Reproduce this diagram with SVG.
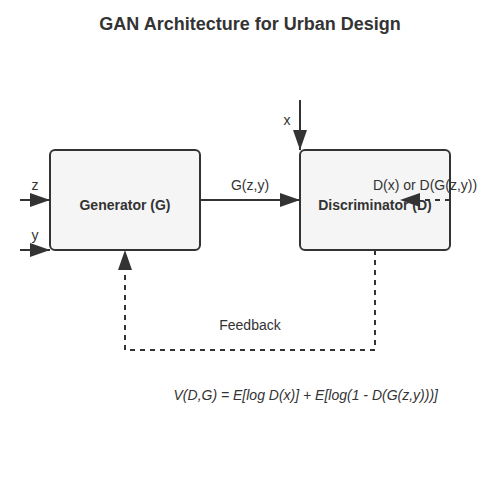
<svg xmlns="http://www.w3.org/2000/svg" width="500" height="500" viewBox="0 0 500 500">
<style>
.box{fill:#f5f5f5;stroke:#333;stroke-width:2}
.lbl{font-family:"Liberation Sans",Arial,sans-serif;font-size:14px;fill:#333}
.bold{font-weight:bold}
.ln{stroke:#333;stroke-width:2;fill:none}
.dash{stroke-dasharray:5,5}
</style>
<defs>
<marker id="arr" markerWidth="10" markerHeight="7" refX="10" refY="3.5" orient="auto" markerUnits="strokeWidth" viewBox="0 0 10 7">
<polygon points="0,0 10,3.5 0,7" fill="#333"/>
</marker>
</defs>
<rect width="500" height="500" fill="#fff"/>
<text x="250" y="30" text-anchor="middle" class="lbl bold" style="font-size:18px">GAN Architecture for Urban Design</text>
<g id="generator">
<rect class="box" x="50" y="150" width="150" height="100" rx="5"/>
<text x="125" y="210" text-anchor="middle" class="lbl bold">Generator (G)</text>
</g>
<g id="discriminator">
<rect class="box" x="300" y="150" width="150" height="100" rx="5"/>
<text x="375" y="210" text-anchor="middle" class="lbl bold">Discriminator (D)</text>
</g>
<g id="connectors">
<line class="ln" x1="20" y1="200" x2="50" y2="200" marker-end="url(#arr)"/>
<line class="ln" x1="20" y1="250" x2="50" y2="250" marker-end="url(#arr)"/>
<line class="ln" x1="200" y1="200" x2="300" y2="200" marker-end="url(#arr)"/>
<line class="ln" x1="300" y1="100" x2="300" y2="150" marker-end="url(#arr)"/>
<line class="ln dash" x1="450" y1="200" x2="400" y2="200" marker-end="url(#arr)"/>
<polyline class="ln dash" points="375,250 375,350 125,350 125,250" marker-end="url(#arr)"/>
<text x="35" y="190" text-anchor="middle" class="lbl">z</text>
<text x="35" y="240" text-anchor="middle" class="lbl">y</text>
<text x="250" y="190" text-anchor="middle" class="lbl">G(z,y)</text>
<text x="287" y="125" text-anchor="middle" class="lbl">x</text>
<text x="250" y="330" text-anchor="middle" class="lbl">Feedback</text>
<text x="425" y="190" text-anchor="middle" class="lbl">D(x) or D(G(z,y))</text>
</g>
<text x="438" y="400" text-anchor="end" class="lbl" font-style="italic">V(D,G) = E[log D(x)] + E[log(1 - D(G(z,y)))]</text>
</svg>
